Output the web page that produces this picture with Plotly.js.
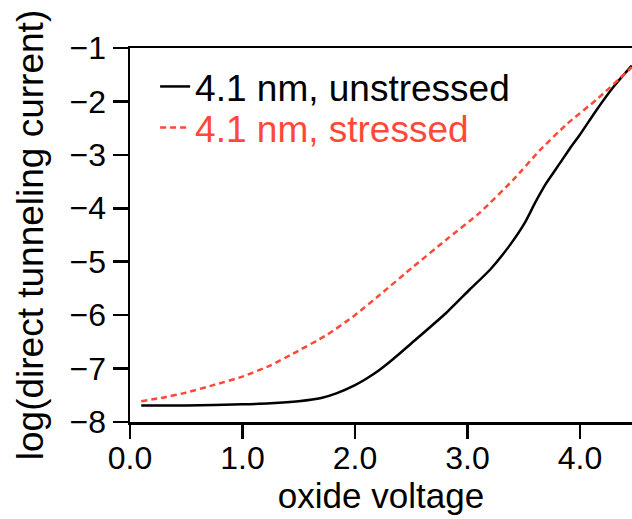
<!DOCTYPE html>
<html>
<head>
<meta charset="utf-8">
<script src="https://cdn.plot.ly/plotly-3.0.1.min.js"></script>
<style>html,body{margin:0;padding:0;background:#fff;}#chart{width:632px;height:519px;}</style>
</head>
<body>
<div id="chart"></div>
<script>
// Unstressed 4.1 nm oxide
const xUnstressed = [0.1, 0.5, 1.0, 1.25, 1.5, 1.7, 1.84, 2.0, 2.1, 2.22, 2.34, 2.5, 2.81, 3.02, 3.2, 3.38, 3.51, 3.6, 3.7, 3.82, 3.91, 4.0, 4.15, 4.3, 4.46];
const yUnstressed = [-7.69, -7.69, -7.67, -7.65, -7.61, -7.55, -7.46, -7.31, -7.19, -7.02, -6.82, -6.53, -5.96, -5.52, -5.15, -4.68, -4.27, -3.90, -3.53, -3.16, -2.88, -2.62, -2.15, -1.72, -1.33];
// Stressed 4.1 nm oxide
const xStressed = [0.1, 0.3, 0.5, 0.74, 1.0, 1.25, 1.45, 1.75, 2.0, 2.22, 2.52, 2.81, 3.11, 3.41, 3.64, 3.88, 4.15, 4.41, 4.46];
const yStressed = [-7.61, -7.54, -7.45, -7.31, -7.15, -6.94, -6.72, -6.37, -6.0, -5.62, -5.09, -4.59, -4.08, -3.46, -2.92, -2.43, -1.96, -1.46, -1.36];
const seriesNames = ['4.1 nm, unstressed', '4.1 nm, stressed'];
const xTickVals = [0, 1, 2, 3, 4];
const yTickVals = [-8, -7, -6, -5, -4, -3, -2, -1];

const RED = 'rgb(255,72,56)';
const FONT = 'Liberation Sans, Arial, Helvetica, sans-serif';

const traces = [
  {x: xUnstressed, y: yUnstressed, name: seriesNames[0], mode: 'lines', legend: 'legend',
   line: {color: 'black', width: 2.5, shape: 'spline', smoothing: 0.5}},
  {x: xStressed, y: yStressed, name: seriesNames[1], mode: 'lines', legend: 'legend2',
   line: {color: RED, width: 2.5, dash: '6px,4px', shape: 'spline', smoothing: 0.5}}
];

const layout = {
  width: 632, height: 519,
  margin: {l: 130, r: 0, t: 48, b: 97},
  paper_bgcolor: '#fff', plot_bgcolor: '#fff',
  font: {family: FONT, color: 'black'},
  showlegend: true,
  legend: {x: 0.05, y: 0.896, xanchor: 'left', yanchor: 'middle',
           bgcolor: 'rgba(0,0,0,0)', font: {size: 37, family: FONT, color: 'black'}},
  legend2: {x: 0.05, y: 0.786, xanchor: 'left', yanchor: 'middle',
           bgcolor: 'rgba(0,0,0,0)', font: {size: 37, family: FONT, color: RED}},
  xaxis: {range: [0, 4.462], tickvals: xTickVals, tickformat: '.1f',
          showgrid: false, zeroline: false, showline: true, mirror: true,
          linecolor: 'black', linewidth: 2.5, ticks: 'outside', ticklen: 14,
          tickwidth: 2.5, tickcolor: 'black', tickfont: {size: 32, family: FONT},
          ticklabelstandoff: -8,
          title: {text: 'oxide voltage', font: {size: 35, family: FONT}, standoff: 0}},
  yaxis: {range: [-8, -1], tickvals: yTickVals,
          showgrid: false, zeroline: false, showline: true, mirror: false,
          linecolor: 'black', linewidth: 2.5, ticks: 'outside', ticklen: 15,
          tickwidth: 2.5, tickcolor: 'black', tickfont: {size: 32, family: FONT},
          title: {text: 'log(direct tunneling current)', font: {size: 37, family: FONT}, standoff: 15}}
};

Plotly.newPlot('chart', traces, layout, {displayModeBar: false, staticPlot: true});
</script>
</body>
</html>
